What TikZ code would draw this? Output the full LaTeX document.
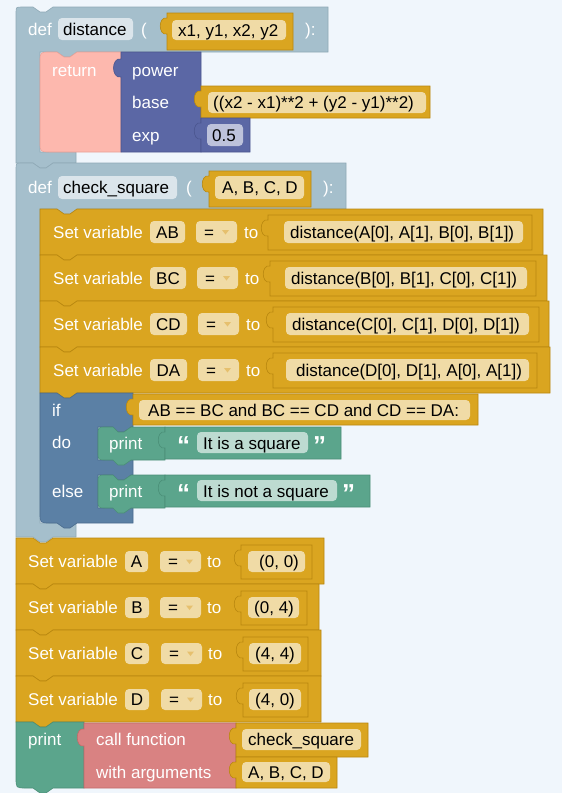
\documentclass[tikz,border=0pt]{standalone}
\usepackage{fontspec}
\setmainfont{Liberation Sans}
\definecolor{bg}{HTML}{F0F6FC}
\definecolor{defc}{HTML}{A5BFCC}
\definecolor{defe}{HTML}{8FA9B6}
\definecolor{deff}{HTML}{DBE5EB}
\definecolor{gold}{HTML}{DAA520}
\definecolor{golde}{HTML}{B8870F}
\definecolor{goldf}{HTML}{F0DBA6}
\definecolor{ddtri}{HTML}{E6C06E}
\definecolor{ret}{HTML}{FDB8AE}
\definecolor{rete}{HTML}{E9A197}
\definecolor{math}{HTML}{5B67A5}
\definecolor{mathe}{HTML}{4A558E}
\definecolor{mathf}{HTML}{BDC2DB}
\definecolor{logic}{HTML}{5B80A5}
\definecolor{logice}{HTML}{4A6C8E}
\definecolor{grn}{HTML}{5BA58C}
\definecolor{grne}{HTML}{4A8E77}
\definecolor{grnf}{HTML}{BDDBD1}
\definecolor{callc}{HTML}{D98282}
\definecolor{calle}{HTML}{C06A6A}
\newcommand\fs{\fontsize{17}{20}\selectfont}
% statement block: L T R B style
\newcommand\stmtblk[5]{\filldraw[#5] (#1,#2) -- (#1+17,#2) -- (#1+24,#2+5) -- (#1+30,#2+5) -- (#1+37,#2) -- (#3,#2) -- (#3,#4) -- (#1+37,#4) -- (#1+30,#4+5) -- (#1+24,#4+5) -- (#1+17,#4) -- (#1,#4) -- cycle;}
% value block with output tab: L T R B style
\newcommand\valblk[5]{\filldraw[#5] (#1,#2) -- (#3,#2) -- (#3,#4) -- (#1,#4) -- (#1,#2+21) .. controls (#1-9,#2+23) and (#1-9,#2+3) .. (#1,#2+5) -- cycle;}
% field: x1 y1 x2 y2 colour
\newcommand\fld[5]{\fill[#5,rounded corners=4pt] (#1,#2) rectangle (#3,#4);}
% dropdown field: x y1 y2
\newcommand\ddf[3]{\fill[goldf,rounded corners=4pt] (#1,#2) rectangle (#1+41,#3);
 \node[tb] at ({#1+8},{(#2+#3)/2}) {=};
 \fill[ddtri] ({#1+26},{(#2+#3)/2-2}) -- ({#1+33},{(#2+#3)/2-2}) -- ({#1+29.5},{(#2+#3)/2+2.5}) -- cycle;}
\begin{document}
\begin{tikzpicture}[x=1pt,y=-1pt,
  tw/.style={anchor=west,inner sep=0pt,text=white,font=\fs,text height=12.2pt,text depth=0pt},
  tb/.style={tw,text=black},
  tc/.style={anchor=center,inner sep=0pt,text=black,font=\fs,text height=12.2pt,text depth=0pt},
  qt/.style={anchor=base west,inner sep=0pt,text=white,font=\fontsize{26}{26}\selectfont\bfseries},
  defs/.style={fill=defc,draw=defe,line width=0.6pt},
  golds/.style={fill=gold,draw=golde,line width=0.6pt},
  maths/.style={fill=math,draw=mathe,line width=0.6pt},
  grns/.style={fill=grn,draw=grne,line width=0.6pt}]
\useasboundingbox (0,0) rectangle (562,793);
\fill[bg] (0,0) rectangle (562,793);

% ---------- def distance ----------
\filldraw[defs] (16,163) -- (16,13) .. controls (16,7) .. (22,7) -- (33,7) -- (40,12) -- (46,12) -- (53,7) -- (328,7) -- (328,52) -- (77,52) -- (70,57) -- (64,57) -- (57,52) -- (40,52) -- (40,152) -- (76,152) -- (76,163) -- (53,163) -- (46,168) -- (40,168) -- (33,163) -- cycle;
\node[tw] (d1kw) at (28,29) {def};
\fld{58}{18}{133}{40}{deff}
\node[tb] (d1name) at (63,29) {distance};
\node[tw] (d1po) at (141,29) {(};
\valblk{167}{13}{293}{50}{golds}
\fld{172}{20}{286}{40}{goldf}
\node[tb] (d1args) at (178,30) {x1, y1, x2, y2};
\node[tw] (d1pc) at (305,29) {):};

% return
\filldraw[fill=ret,draw=rete,line width=0.6pt] (121,52) -- (77,52) -- (70,57) -- (64,57) -- (57,52) -- (50,52) .. controls (40,52) .. (40,62) -- (40,142) .. controls (40,152) .. (50,152) -- (121,152) -- cycle;
\node[tw] (ret) at (52,70) {return};
% power
\filldraw[maths] (121,52) -- (201,52) -- (201,152) -- (121,152) -- (121,77) .. controls (111,79) and (111,57) .. (121,59) -- cycle;
\node[tw] (pw) at (132,70) {power};
\node[tw] (pb) at (132,102) {base};
\node[tw] (pe) at (132,135) {exp};
\valblk{201}{86}{430}{118}{golds}
\fld{208}{92}{426}{113}{goldf}
\node[tb] (bexpr) at (213,102.5) {((x2 - x1)**2 + (y2 - y1)**2)};
\valblk{201}{118}{250}{152}{maths}
\fld{207}{124}{243}{146}{mathf}
\node[tb] (num) at (212,135) {0.5};

% ---------- def check_square ----------
\filldraw[defs] (16,537) -- (16,169) .. controls (16,163) .. (22,163) -- (33,163) -- (40,168) -- (46,168) -- (53,163) -- (346,163) -- (346,209) -- (77,209) -- (70,214) -- (64,214) -- (57,209) -- (40,209) -- (40,523) -- (76,523) -- (76,537) -- (53,537) -- (46,542) -- (40,542) -- (33,537) -- cycle;
\node[tw] (d2kw) at (28,187.5) {def};
\fld{58}{176}{177}{199}{deff}
\node[tb] (d2name) at (63,187.5) {check\_square};
\node[tw] (d2po) at (186,187.5) {(};
\valblk{209}{171}{311}{207}{golds}
\fld{215}{176}{304}{199}{goldf}
\node[tb] (d2args) at (222,187.5) {A, B, C, D};
\node[tw] (d2pc) at (323,187.5) {):};

% Set AB
\stmtblk{40}{209}{543}{255}{golds}
\node[tw] (sab) at (53,232) {Set variable};
\fld{150}{221}{185}{243}{goldf}
\node[tc] (vab) at (167.5,232) {AB};
\ddf{196}{221}{243}
\node[tw] (tab) at (244,232) {to};
\valblk{268}{215}{532}{250}{golds}
\fld{284}{221}{523}{243}{goldf}
\node[tb] (xab) at (290,232) {distance(A[0], A[1], B[0], B[1])};
% Set BC
\stmtblk{40}{255}{547}{301}{golds}
\node[tw] (sbc) at (53,278) {Set variable};
\fld{150}{267}{186}{289}{goldf}
\node[tc] (vbc) at (168,278) {BC};
\ddf{197}{267}{289}
\node[tw] (tbc) at (245,278) {to};
\valblk{270}{261}{536}{296}{golds}
\fld{285}{267}{527}{289}{goldf}
\node[tb] (xbc) at (291,278) {distance(B[0], B[1], C[0], C[1])};
% Set CD
\stmtblk{40}{301}{549}{347}{golds}
\node[tw] (scd) at (53,324) {Set variable};
\fld{150}{313}{187}{335}{goldf}
\node[tc] (vcd) at (168.5,324) {CD};
\ddf{198}{313}{335}
\node[tw] (tcd) at (246,324) {to};
\valblk{273}{307}{539}{342}{golds}
\fld{286}{313}{529}{335}{goldf}
\node[tb] (xcd) at (292,324) {distance(C[0], C[1], D[0], D[1])};
% Set DA
\stmtblk{40}{347}{550}{393}{golds}
\node[tw] (sda) at (53,370) {Set variable};
\fld{150}{359}{187}{381}{goldf}
\node[tc] (vda) at (168.5,370) {DA};
\ddf{198}{359}{381}
\node[tw] (tda) at (246,370) {to};
\valblk{273}{353}{537}{388}{golds}
\fld{286}{359}{529}{381}{goldf}
\node[tb] (xda) at (296,370) {distance(D[0], D[1], A[0], A[1])};

% ---------- if / else ----------
\filldraw[fill=logic,draw=logice,line width=0.6pt] (40,393) -- (57,393) -- (64,398) -- (70,398) -- (77,393) -- (133,393) -- (133,427) -- (131,427) -- (124,432) -- (118,432) -- (113,427) -- (98,427) -- (98,460) -- (133,460) -- (133,475) -- (131,475) -- (124,480) -- (118,480) -- (113,475) -- (98,475) -- (98,508) -- (133,508) -- (133,523) -- (77,523) -- (70,528) -- (64,528) -- (57,523) -- (50,523) .. controls (40,523) .. (40,513) -- cycle;
\node[tw] (kif) at (52,410) {if};
\node[tw] (kdo) at (52,442) {do};
\node[tw] (kelse) at (52,491) {else};
\valblk{133}{394}{478}{425}{golds}
\fld{139}{400}{470}{420}{goldf}
\node[tb] (cond) at (148,410) {AB == BC and BC == CD and CD == DA:};
% print 1
\filldraw[grns] (165,427) -- (131,427) -- (124,432) -- (118,432) -- (113,427) -- (106,427) .. controls (98,427) .. (98,435) -- (98,452) .. controls (98,460) .. (106,460) -- (113,460) -- (118,465) -- (124,465) -- (131,460) -- (165,460) -- cycle;
\node[tw] (pr1) at (109,443) {print};
\valblk{165}{427}{341}{459}{grns}
\node[qt] (q1a) at (177,454) {“};
\fld{197}{432}{308}{453}{grnf}
\node[tb] (s1) at (203,443) {It is a square};
\node[qt] (q1b) at (313,454) {”};
% print 2
\filldraw[grns] (165,475) -- (131,475) -- (124,480) -- (118,480) -- (113,475) -- (106,475) .. controls (98,475) .. (98,483) -- (98,500) .. controls (98,508) .. (106,508) -- (113,508) -- (118,513) -- (124,513) -- (131,508) -- (165,508) -- cycle;
\node[tw] (pr2) at (109,491) {print};
\valblk{165}{475}{370}{507}{grns}
\node[qt] (q2a) at (177,502) {“};
\fld{197}{480}{337}{501}{grnf}
\node[tb] (s2) at (203,491) {It is not a square};
\node[qt] (q2b) at (342,502) {”};

% ---------- bottom Set rows ----------
\stmtblk{16}{538}{324}{584}{golds}
\node[tw] (sa) at (28,561) {Set variable};
\fld{125}{551}{148}{572}{goldf}
\node[tc] (va) at (136.5,561.5) {A};
\ddf{160}{551}{572}
\node[tw] (ta) at (207,561) {to};
\valblk{241}{545}{312}{579}{golds}
\fld{248}{551}{305}{572}{goldf}
\node[tb] (xa) at (259,561.5) {(0, 0)};

\stmtblk{16}{584}{319}{630}{golds}
\node[tw] (sb) at (28,607) {Set variable};
\fld{125}{597}{149}{618}{goldf}
\node[tc] (vb) at (137,607.5) {B};
\ddf{160}{597}{618}
\node[tw] (tb2) at (207,607) {to};
\valblk{241}{591}{307}{625}{golds}
\fld{248}{597}{299}{618}{goldf}
\node[tb] (xb) at (254,607.5) {(0, 4)};

\stmtblk{16}{630}{321}{676}{golds}
\node[tw] (sc) at (28,653) {Set variable};
\fld{125}{643}{149}{664}{goldf}
\node[tc] (vc) at (137,653.5) {C};
\ddf{161}{643}{664}
\node[tw] (tc2) at (208,653) {to};
\valblk{243}{637}{308}{671}{golds}
\fld{249}{643}{301}{664}{goldf}
\node[tb] (xc) at (255,653.5) {(4, 4)};

\stmtblk{16}{676}{321}{722}{golds}
\node[tw] (sd) at (28,699) {Set variable};
\fld{125}{689}{149}{710}{goldf}
\node[tc] (vd) at (137,699.5) {D};
\ddf{161}{689}{710}
\node[tw] (td2) at (208,699) {to};
\valblk{243}{683}{308}{717}{golds}
\fld{249}{689}{301}{710}{goldf}
\node[tb] (xd) at (255,699.5) {(4, 0)};

% ---------- print call ----------
\filldraw[grns] (84,722) -- (53,722) -- (46,727) -- (40,727) -- (33,722) -- (16,722) -- (16,778) .. controls (16,788) .. (26,788) -- (33,788) -- (40,793) -- (46,793) -- (53,788) -- (84,788) -- cycle;
\node[tw] (pr3) at (28,739) {print};
\filldraw[fill=callc,draw=calle,line width=0.6pt] (84,723) -- (236,723) -- (236,788) -- (84,788) -- (84,746) .. controls (75,748) and (75,727) .. (84,729) -- cycle;
\node[tw] (cf) at (96,739) {call function};
\node[tw] (wa) at (96,772) {with arguments};
\valblk{236}{723}{368}{757}{golds}
\fld{242}{729}{361}{750}{goldf}
\node[tb] (fn) at (248,739.5) {check\_square};
\valblk{236}{757}{337}{788}{golds}
\fld{242}{762}{330}{782}{goldf}
\node[tb] (fa) at (248,772) {A, B, C, D};
\end{tikzpicture}
\end{document}
